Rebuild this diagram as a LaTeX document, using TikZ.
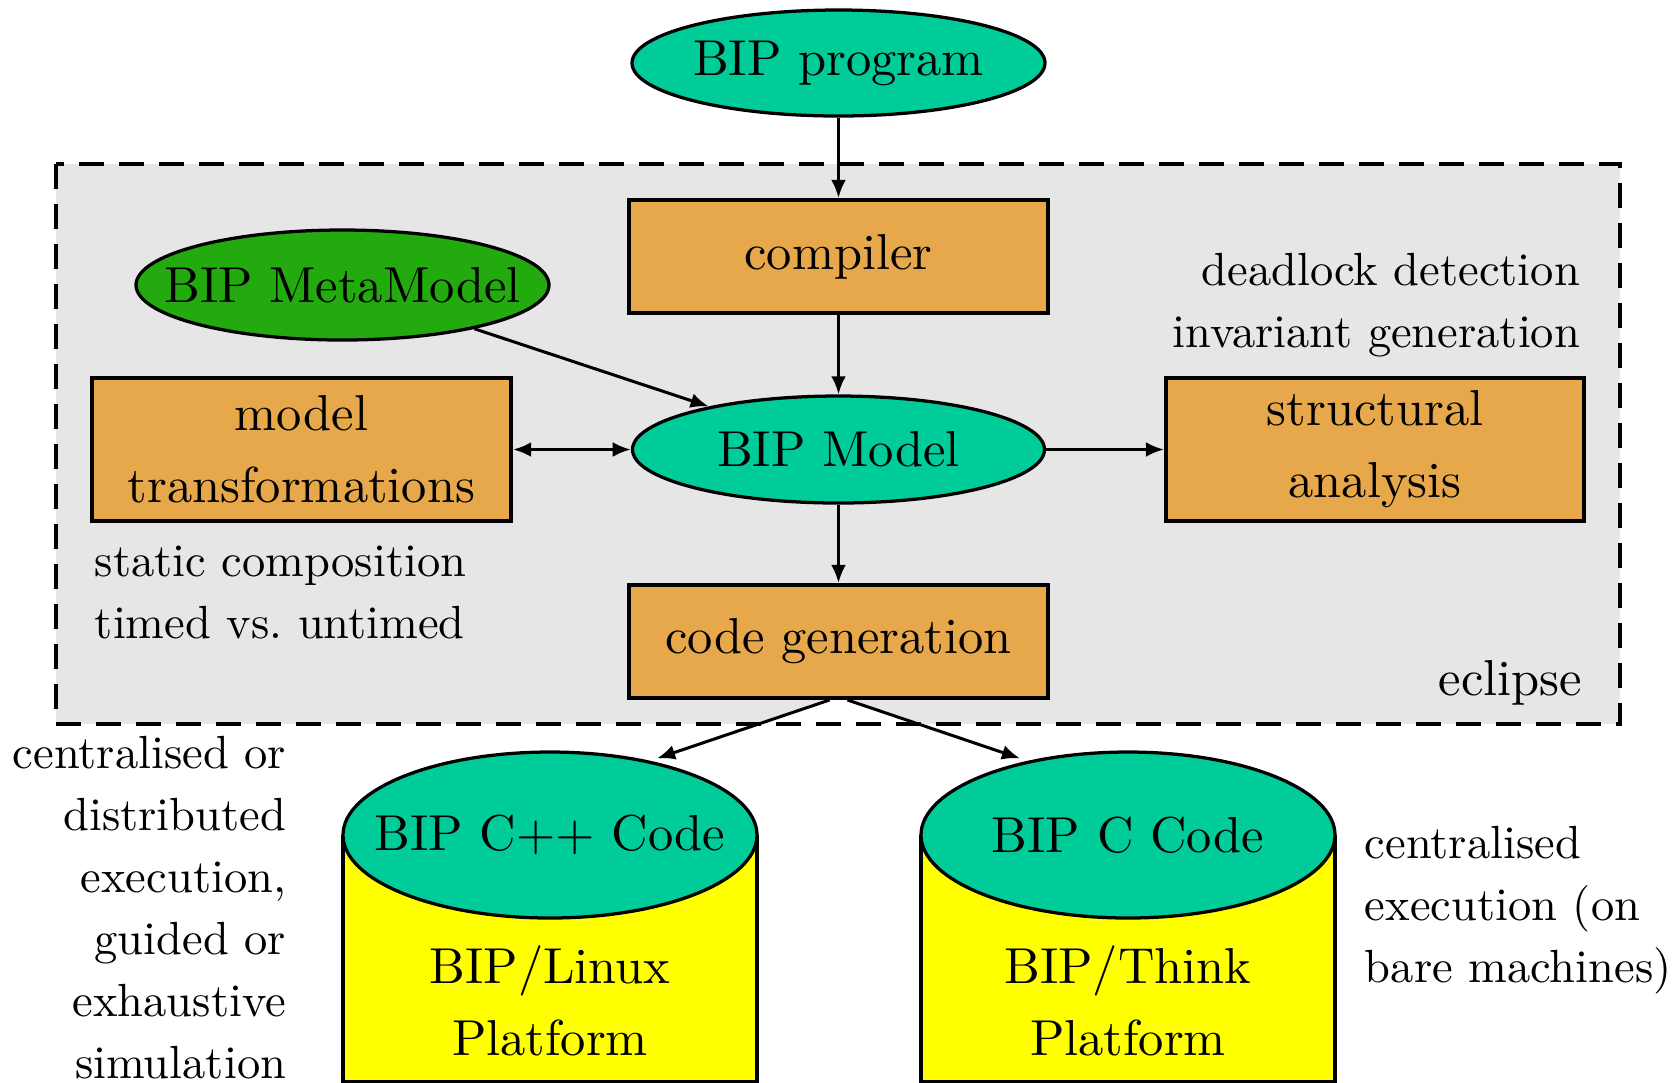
\documentclass[tikz,border=0pt]{standalone}
\usetikzlibrary{arrows.meta,shapes.geometric}
\newlength\pxu
\setlength\pxu{0.215pt}
\definecolor{bipteal}{RGB}{0,204,153}
\definecolor{biporange}{RGB}{230,168,75}
\definecolor{bipgreen}{RGB}{34,170,14}
\definecolor{bipgray}{RGB}{230,230,230}
\definecolor{bipyellow}{RGB}{255,255,0}
\begin{document}
\begin{tikzpicture}[x=0.215pt,y=-0.215pt,
  mainfont/.style={font=\fontsize{10.86}{15.5}\selectfont},
  sidefont/.style={font=\fontsize{10}{13.3}\selectfont},
  box/.style={draw, line width=0.85pt, fill=biporange, minimum width=419*\pxu, inner sep=0pt, align=center, mainfont},
  ell/.style={ellipse, draw, line width=0.7pt, fill=bipteal, inner sep=0pt, minimum width=413*\pxu, mainfont},
  sidetext/.style={sidefont, inner sep=0pt},
  arr/.style={-{Latex[length=3.9pt,width=3.2pt]}, line width=0.65pt},
  darr/.style={{Latex[length=3.9pt,width=3.2pt]}-{Latex[length=3.9pt,width=3.2pt]}, line width=0.65pt},
  drum/.style={draw, line width=0.85pt, fill=bipyellow, minimum width=414*\pxu, minimum height=245*\pxu, inner sep=0pt, anchor=north},
]
\useasboundingbox (0,0) rectangle (1677,1082);
% eclipse frame
\fill[bipgray] (56,164) rectangle (1620,724);
\fill[white] (829,698) -- (847,698) -- (920,724) -- (757,724) -- cycle;
\draw[line width=0.9pt, dash pattern=on 5.4pt off 3.2pt] (56,164) rectangle (1620,724);

% nodes
\node[ell, minimum height=106*\pxu] (program) at (838.5,63) {BIP program};
\node[box, minimum height=113*\pxu] (compiler) at (838.5,256.5) {compiler};
\node[ell, fill=bipgreen, minimum height=110*\pxu] (meta) at (342.5,285) {\makebox[0pt]{BIP MetaModel}};
\node[ell, minimum width=412*\pxu, minimum height=107*\pxu] (model) at (838.5,449.5) {BIP Model};
\node[box, minimum height=143*\pxu] (trans) at (301.5,449.5) {model\\transformations};
\node[box, minimum width=418*\pxu, minimum height=143*\pxu] (struct) at (1375,449.5) {structural\\analysis};
\node[box, minimum height=113*\pxu] (codegen) at (838.5,641.5) {code generation};

\node[sidetext, align=right, anchor=base east] (deadlock) at (1581,347) {deadlock detection\\invariant generation};
\node[sidetext, align=left, anchor=base west] (static) at (94,638) {static composition\\timed vs.\ untimed};
\node[mainfont, inner sep=0pt, anchor=base east] (eclipse) at (1583,695) {eclipse};

% cylinders
\node[drum] (cppbody) at (550,835) {};
\node[ell, minimum width=414*\pxu, minimum height=166*\pxu] (cpp) at (550,835) {\makebox[0pt]{BIP C++ Code}};
\node[mainfont, align=center, inner sep=0pt] (linux) at (550,1001) {BIP/Linux\\Platform};
\node[drum] (cbody) at (1128,835) {};
\node[ell, minimum width=414*\pxu, minimum height=166*\pxu] (ccode) at (1128,835) {\makebox[0pt]{BIP C Code}};
\node[mainfont, align=center, inner sep=0pt] (think) at (1128,1001) {BIP/Think\\Platform};

\node[sidetext, align=right, anchor=base east] (exec) at (287,1078) {centralised or\\distributed\\execution,\\guided or\\exhaustive\\simulation};
\node[sidetext, align=left, anchor=base west] (cent) at (1364,982) {centralised\\execution (on\\bare machines)};

% connectors
\draw[arr] (program) -- (compiler);
\draw[arr] (compiler) -- (model);
\draw[arr] (meta) -- (model);
\draw[darr] (trans) -- (model);
\draw[arr] (model) -- (struct);
\draw[arr] (model) -- (codegen);
\draw[arr] ([xshift=-9*\pxu]codegen.south) -- ([xshift=107*\pxu,yshift=-8*\pxu]cpp.north);
\draw[arr] ([xshift=9*\pxu]codegen.south) -- ([xshift=-108*\pxu,yshift=-8*\pxu]ccode.north);
\end{tikzpicture}
\end{document}
